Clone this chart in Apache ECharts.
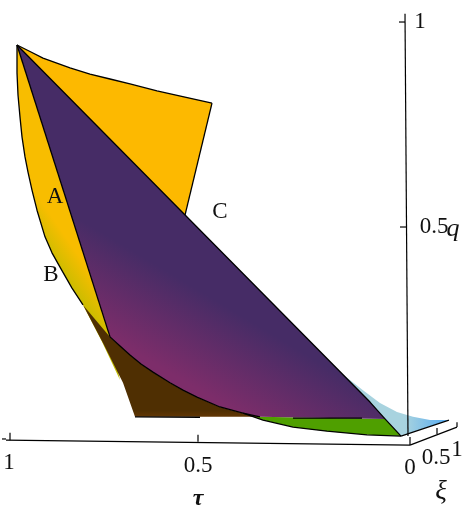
<!DOCTYPE html>
<html><head><meta charset="utf-8">
<style>html,body{margin:0;padding:0;background:#fff}#c{width:466px;height:524px}</style>
<script src="https://cdn.jsdelivr.net/npm/echarts@6/dist/echarts.min.js"></script>
</head><body><div id="c"></div>
<script>
// All outlines are [tau, q] in the plot's projected plane.
const apex=[.9775,.944];
const surfaceCTop=[apex,[.945,.928],[.9125,.912],[.845,.888],[.795,.873],[.745,.861],[.695,.849],[.6275,.832],[.5575,.817],[.49,.802]];
const surfaceCEdge=[[.49,.802],[.5575,.529]];
const surfaceBLeft=[apex,[.9775,.907],[.9775,.876],[.975,.822],[.97,.768],[.965,.72],[.9575,.671],[.95,.634],[.94,.59],[.9275,.541],[.9075,.476],[.89,.437],[.87,.402],[.84,.351],[.8125,.31]];
const surfaceBSliver=[[.765,.22],[.72,.127],[.745,.232]];
const crease=[[.745,.232],[.72,.21],[.695,.188],[.6675,.166],[.6375,.146],[.595,.12],[.5625,.102],[.5275,.085],[.47,.061],[.4125,.046],[.37,.037]];
const brownLower=[[.6825,.037],[.7125,.12],[.7625,.217]];
const diagonal=[apex,[.545,.517],[.095,.073],[.0575,.032],[.0175,-.01]];
const greenBottom=[[.4125,.046],[.3625,.029],[.2875,.012],[.2025,.002],[.1025,-.007],[.0175,-.01]];
const blueTop=[[.17,.146],[.145,.127],[.1125,.102],[.07,.071],[.0275,.049],[-.0125,.037],[-.055,.029],[-.1025,.029]];
const blueBottom=[[-.1025,.029],[.0175,-.01]];
const brownBase=[[.6825,.037],[.52,.036]];
const greenEdge=[[.2875,.034],[.115,.034]];

const axisLines=[
 [[1.005,-.02],[-.005,-.032]],[[1.015,-.017],[1.005,-.017]],
 [[.995,-.002],[.995,-.02]],[[.525,-.007],[.525,-.024]],[[-.005,-.012],[-.005,-.032]],
 [[-.005,-.032],[-.1225,.012]],[[-.1225,.024],[-.1225,.012]],[[-.0725,.01],[-.0725,-.005]],
 [[.0075,1.02],[0,-.01]],[[.0225,1],[.0075,1]],[[.02,.5],[.0025,.5]]
];
const labelTexts=['1','0.5','τ','0','0.5','1','ξ','1','0.5','q','A','B','C'];
const labelTau=[.9975,.525,.525,-.005,-.07,-.1225,-.0825,-.03,-.065,-.1125,.8825,.8925,.47];
const labelQ=[-.076,-.083,-.163,-.088,-.063,-.044,-.147,1.0,.5,.495,.573,.383,.537];

const labelFont={'τ':'bold italic 24px','ξ':'italic 27px','q':'italic 26px'};
const surfaces=[
 {pts:[...surfaceCTop,[.5575,.529]],stops:['#fdb900','#fdb900'],grad:[[0,0],[1,1]]},
 {pts:[...surfaceBLeft,...surfaceBSliver],stops:['#c0bc00','#f8bd00'],grad:[[.895,.402],[.8325,.444]]},
 {pts:[...blueTop,[.0175,-.01]],stops:['#a8d3df','#5baef0'],grad:[[.0075,.029],[-.0925,.029]]},
 {pts:[...greenBottom,[.0575,.032],[.37,.037]],stops:['#4f9f00','#4f9f00'],grad:[[0,0],[1,1]]},
 {pts:[[.8125,.31],...crease,...brownLower],stops:['#4f2f02','#663804'],grad:[[.6,.052],[.6,.034]]},
 {pts:[apex,...crease,...diagonal.slice(1,4).reverse()],stops:['#7d2d6a','#462c66'],grad:[[.6075,.151],[.4975,.331]]}
];
const outlines=[surfaceCTop,surfaceCEdge,surfaceBLeft,[apex,[.745,.232]],crease,brownBase,greenBottom,greenEdge,blueBottom,diagonal];

const chart=echarts.init(document.getElementById('c'),null,{renderer:'canvas'});
const font='"Liberation Serif","Times New Roman",serif';
chart.setOption({
 animation:false,
 grid:{left:0,right:0,top:0,bottom:0},
 xAxis:{type:'value',min:-.145,max:1.02,inverse:true,show:false},
 yAxis:{type:'value',min:-.2244,max:1.0537,show:false},
 series:[
  {type:'custom',silent:true,coordinateSystem:'cartesian2d',clip:false,data:surfaces.map((s,i)=>[i]),
   renderItem(p,api){
    const s=surfaces[api.value(0)];
    const a=api.coord(s.grad[0]),b=api.coord(s.grad[1]);
    return {type:'polygon',shape:{points:s.pts.map(q=>api.coord(q))},
     style:{fill:new echarts.graphic.LinearGradient(a[0],a[1],b[0],b[1],
       [{offset:0,color:s.stops[0]},{offset:1,color:s.stops[1]}],true)}};
   }},
  {type:'custom',silent:true,coordinateSystem:'cartesian2d',clip:false,data:outlines.map((s,i)=>[i]),
   renderItem(p,api){
    return {type:'polyline',shape:{points:outlines[api.value(0)].map(q=>api.coord(q))},
     style:{fill:'none',stroke:'#000',lineWidth:1.3,lineJoin:'round'}};
   }},
  {type:'custom',silent:true,coordinateSystem:'cartesian2d',clip:false,data:axisLines.map((s,i)=>[i]),
   renderItem(p,api){
    return {type:'polyline',shape:{points:axisLines[api.value(0)].map(q=>api.coord(q))},
     style:{fill:'none',stroke:'#000',lineWidth:1.2}};
   }},
  {type:'custom',silent:true,coordinateSystem:'cartesian2d',clip:false,data:labelTexts.map((s,i)=>[i]),
   renderItem(p,api){
    const i=api.value(0),t=labelTexts[i],c=api.coord([labelTau[i],labelQ[i]]);
    return {type:'text',x:c[0],y:c[1],style:{text:t,font:(labelFont[t]||'normal 23px')+' '+font,fill:'#111',align:'center',verticalAlign:'middle'}};
   }}
 ]
});
</script></body></html>
